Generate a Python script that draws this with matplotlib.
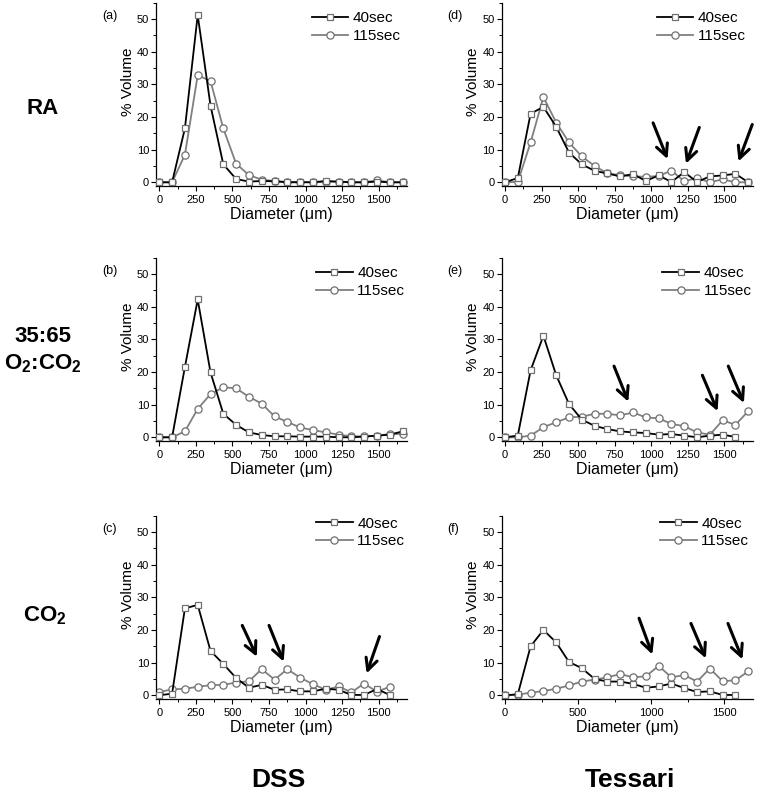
import matplotlib.pyplot as plt
from matplotlib import font_manager
from matplotlib.ticker import MultipleLocator

plt.rcParams['font.family'] = ['Liberation Sans', 'DejaVu Sans']
plt.rcParams['mathtext.fontset'] = 'custom'
plt.rcParams['mathtext.rm'] = 'Liberation Sans'
plt.rcParams['mathtext.bf'] = 'Liberation Sans:bold'

installed = {f.name for f in font_manager.fontManager.ttflist}
if 'Liberation Sans Narrow' in installed:
    tick_family, tick_size = 'Liberation Sans Narrow', 9
else:
    tick_family, tick_size = 'Liberation Sans', 8

# bin centres (um)
diameter = [0, 87.5, 175, 262.5, 350, 437.5, 525, 612.5, 700, 787.5, 875,
            962.5, 1050, 1137.5, 1225, 1312.5, 1400, 1487.5, 1575, 1662.5]

# DSS
dss_ra_40 = [0, 0, 16.5, 51.2, 23.5, 5.5, 1.0, 0.2, 0.4, 0.3, 0, 0, 0, 0.4,
             0.2, 0, 0, 0.2, 0, 0]
dss_ra_115 = [0, 0, 8.4, 32.8, 31.0, 16.5, 5.7, 2.2, 0.8, 0.4, 0.1, 0.1, 0,
              0.1, 0.2, 0, 0, 0.6, 0, 0]
dss_mix_40 = [0, 0, 21.5, 42.2, 19.9, 7.2, 3.8, 1.5, 0.7, 0.3, 0.3, 0.2, 0.2,
              0.2, 0, 0, 0.2, 0.5, 0.8, 1.8]
dss_mix_115 = [0, 0, 1.8, 8.7, 13.2, 15.3, 15.0, 12.4, 10.3, 6.4, 4.7, 3.0,
               2.2, 1.5, 0.8, 0.3, 0.3, 0.5, 1.0, 1.0]
dss_co2_40 = [0, 0.5, 26.6, 27.7, 13.6, 9.6, 5.3, 2.3, 3.2, 1.7, 1.8, 1.2,
              1.2, 2.0, 1.7, 0.1, 0.1, 1.9, 0.1]
dss_co2_115 = [1.0, 1.8, 2.0, 2.6, 3.1, 3.2, 3.9, 4.3, 8.0, 4.8, 8.0, 5.4,
               3.4, 1.7, 2.7, 0.9, 3.6, 1.1, 2.6]

# Tessari
tes_ra_40 = [0, 1.3, 21.0, 23.1, 17.0, 9.1, 5.5, 3.5, 2.7, 1.8, 2.5, 0.4,
             2.1, 0.1, 3.1, 0.1, 1.8, 2.1, 2.6, 0]
tes_ra_115 = [0, 0.1, 12.2, 26.1, 18.3, 12.2, 7.9, 5.0, 2.7, 2.2, 1.8, 1.7,
              1.9, 3.6, 0.3, 1.3, 0, 0.9, 0, 0]
tes_mix_40 = [0, 0.5, 20.5, 31.1, 19.0, 10.2, 5.4, 3.5, 2.5, 1.8, 1.5, 1.3,
              0.8, 1.0, 0.5, 0, 0.5, 0.8, 0.1]
tes_mix_115 = [0, 0, 0.5, 3.1, 4.6, 6.1, 6.3, 7.2, 7.2, 6.7, 7.6, 6.1, 5.8,
               4.1, 3.4, 1.5, 0.8, 5.2, 3.8, 8.0]
tes_co2_40 = [0, 0.3, 15.0, 20.0, 16.2, 10.2, 8.3, 5.0, 4.2, 4.2, 3.5, 2.3,
              2.7, 3.6, 2.2, 1.0, 1.2, 0.1, 0.1]
tes_co2_115 = [0, 0.2, 0.8, 1.3, 2.0, 3.0, 4.2, 4.8, 5.5, 6.5, 5.5, 5.8, 9.0,
               5.5, 6.2, 4.2, 8.2, 4.3, 4.6, 7.3]

# arrows: (tail x, tail y, head x, head y)
arrows_c = [(567, 21.4, 667, 11.8), (750, 21.4, 850, 10.3), (1505, 18.0, 1417, 6.7)]
arrows_d = [(1012, 18.2, 1111, 7.1), (1328, 16.8, 1237, 5.7), (1690, 17.7, 1596, 6.4)]
arrows_e = [(745, 21.8, 843, 10.9), (1349, 19.0, 1453, 8.0), (1526, 21.8, 1633, 10.5)]
arrows_f = [(916, 23.6, 1007, 12.5), (1271, 22.0, 1373, 11.3), (1524, 22.0, 1623, 11.0)]

W, H = 760, 793
fig = plt.figure(figsize=(W / 100, H / 100), dpi=100)

ax_w, ax_h = 251, 183.5
lefts = [156, 501.7]
tops = [2.7, 257.7, 515.7]

panels = [
    ('(a)', 0, 0, dss_ra_40, dss_ra_115, [], 250, 0.620, 50),
    ('(b)', 0, 1, dss_mix_40, dss_mix_115, [], 250, 0.637, 50),
    ('(c)', 0, 2, dss_co2_40, dss_co2_115, arrows_c, 250, 0.637, 52.3),
    ('(d)', 1, 0, tes_ra_40, tes_ra_115, arrows_d, 250, 0.617, 50),
    ('(e)', 1, 1, tes_mix_40, tes_mix_115, arrows_e, 250, 0.640, 50),
    ('(f)', 1, 2, tes_co2_40, tes_co2_115, arrows_f, 500, 0.631, 52.3),
]

for tag, col, row, y40, y115, arrows, xstep, leg_x, leg_row in panels:
    left, top = lefts[col], tops[row]
    ax = fig.add_axes([left / W, 1 - (top + ax_h) / H, ax_w / W, ax_h / H])
    ax.plot(diameter[:len(y40)], y40, color='black', lw=1.3, marker='s',
            ms=4.3, mfc='white', mec='#707070', mew=0.9, label='40sec', zorder=3)
    ax.plot(diameter[:len(y115)], y115, color='#808080', lw=1.3, marker='o',
            ms=5.2, mfc='white', mec='#707070', mew=0.9, label='115sec', zorder=2)
    for x0, y0, x1, y1 in arrows:
        ax.annotate('', xy=(x1, y1), xytext=(x0, y0), annotation_clip=False,
                    arrowprops=dict(arrowstyle='->, head_length=0.6, head_width=0.3',
                                    lw=2.2, color='black', mutation_scale=14,
                                    shrinkA=0, shrinkB=0))
    ax.set_xlim(-22.5, 1693)
    ax.set_ylim(-1.2, 55)
    ax.xaxis.set_major_locator(MultipleLocator(xstep))
    ax.xaxis.set_minor_locator(MultipleLocator(xstep / 2))
    ax.yaxis.set_major_locator(MultipleLocator(10))
    ax.yaxis.set_minor_locator(MultipleLocator(5))
    for s in ['top', 'right']:
        ax.spines[s].set_visible(False)
    for s in ['left', 'bottom']:
        ax.spines[s].set_linewidth(0.9)
    ax.tick_params(which='major', direction='out', length=3.5, width=0.8,
                   pad=1.5, labelsize=tick_size, labelfontfamily=tick_family)
    ax.tick_params(which='minor', direction='out', length=2, width=0.7)
    ax.tick_params(axis='x', which='major', pad=2.5)
    ax.set_xlabel('Diameter (\u03bcm)', fontsize=11.5)
    ax.xaxis.set_label_coords(0.5, -0.115)
    ax.set_ylabel('% Volume', fontsize=11)
    ax.yaxis.set_label_coords(-0.085, 0.57)
    leg_y = (leg_row + 1.2 + 8 / 3.29) / 56.2
    ax.legend(loc='upper left', bbox_to_anchor=(leg_x, leg_y), frameon=False,
              fontsize=11, handlelength=2.4, handletextpad=0.3,
              labelspacing=0.25, borderpad=0, borderaxespad=0)
    fig.text((left - 54) / W, 1 - (top + 13) / H, tag, fontsize=9,
             ha='left', va='center')

row_kw = dict(ha='center', va='center', fontsize=16, fontweight='bold')
fig.text(43 / W, 1 - 108 / H, 'RA', **row_kw)
fig.text(43 / W, 1 - 337 / H, '35:65', **row_kw)
fig.text(43 / W, 1 - 364 / H, r'O$_\mathbf{2}$:CO$_\mathbf{2}$', **row_kw)
fig.text(45 / W, 1 - 616 / H, r'CO$_\mathbf{2}$', **row_kw)

col_kw = dict(ha='center', va='center', fontsize=19, fontweight='bold')
fig.text(278 / W, 1 - 780 / H, 'DSS', **col_kw)
fig.text(630 / W, 1 - 780 / H, 'Tessari', **col_kw)

plt.savefig('out.png', dpi=100)
